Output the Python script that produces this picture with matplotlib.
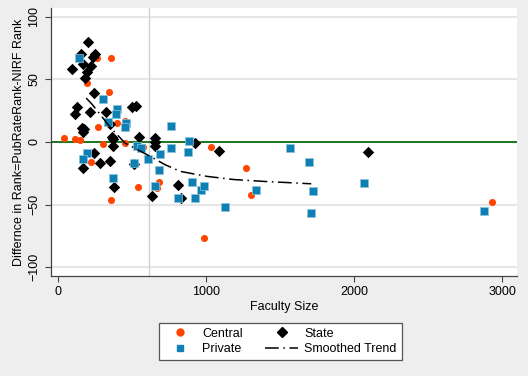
import numpy as np
import matplotlib.pyplot as plt
from matplotlib.lines import Line2D

plt.rcParams['font.family'] = ['Liberation Sans', 'DejaVu Sans']

# Central universities
central_size = [262, 357, 194, 341, 267, 397, 452, 43, 117, 149, 306, 455, 572,
                222, 540, 360, 685, 668, 987, 1031, 1272, 1304, 2932]
central_diff = [67, 67, 47, 40, 12, 15, 17, 3, 2.4, 1.3, -2, -1, -4,
                -16, -36, -46, -32, -37, -77, -4, -21, -42, -48]

# State universities
state_size = [203, 155, 93, 167, 250, 239, 221, 198, 180, 246, 131, 113, 214,
              325, 496, 528, 160, 176, 168, 350, 362, 374, 372, 545, 657, 657,
              657, 927, 1089, 245, 166, 280, 353, 378, 516, 635, 807, 832, 2095]
state_diff = [80, 70, 58, 62, 70, 68, 61, 56, 51, 39, 28, 22, 24,
              24, 28, 29, 11, 10, 8, 14, 4, 2, -3, 4, 3, 0,
              -3.5, -1, -7, -9, -21, -17, -15, -36, -18, -43, -34, -45, -8]

# Private universities
private_size = [144, 302, 396, 388, 338, 460, 453, 530, 560, 510, 606, 370, 196,
                169, 658, 679, 686, 765, 763, 884, 877, 904, 810, 927, 963, 983,
                1128, 1340, 1565, 1696, 1721, 1707, 2068, 2878]
private_diff = [67, 34, 26, 22, 16, 15, 12, -3.5, -5, -17, -14, -29, -9,
                -14, -35, -22, -10, 13, -5, 1, -8, -32, -45, -45, -38, -35,
                -52, -38, -5, -16, -39, -57, -33, -55]

# Smoothed trend
trend_size = [190, 230, 284, 350, 453, 550, 622, 720, 825, 1006, 1186, 1389, 1560, 1710]
trend_diff = [35, 30, 22, 12, -1, -7, -11.5, -18, -23.5, -27.5, -30, -31.5, -32.5, -33.4]

# Mean faculty size (vertical reference line)
mean_size = 617

ORANGE = '#FF4500'
BLUE = '#0E80B4'
BG = '#EEEEEE'

fig = plt.figure(figsize=(5.28, 3.76), dpi=100, facecolor=BG)
ax = fig.add_axes([0.096, 0.266, 0.883, 0.713])
ax.set_facecolor('white')

# grid + reference lines
for yv in [-100, -50, 50, 100]:
    ax.axhline(yv, color='#E6E6E6', lw=1.5, zorder=0)
ax.axvline(mean_size, color='#CDD2DC', lw=1.0, zorder=1)
ax.axhline(0, color='#0A6A0A', lw=1.3, zorder=1)

ax.scatter(central_size, central_diff, s=26, marker='o', color=ORANGE,
           linewidths=0, zorder=2, label='Central')
ax.scatter(state_size, state_diff, s=34, marker='D', color='black',
           linewidths=0, zorder=3, label='State')
ax.scatter(private_size, private_diff, s=28, marker='s', color=BLUE,
           edgecolors='#8CC4DC', linewidths=0.5, zorder=4, label='Private')
ax.plot(trend_size, trend_diff, color='black', lw=1.1,
        dashes=(9, 3, 1, 3), zorder=5, label='Smoothed Trend')

ax.set_xlim(-50, 3100)
ax.set_ylim(-107, 107)
ax.set_xticks([0, 1000, 2000, 3000])
ax.set_yticks([-100, -50, 0, 50, 100])
ax.tick_params(labelsize=9, color='#444444', length=4, width=0.8)
for lab in ax.get_yticklabels():
    lab.set_rotation(90)
    lab.set_va('center')

for side in ['top', 'right']:
    ax.spines[side].set_visible(False)
for side in ['left', 'bottom']:
    ax.spines[side].set_color('#444444')
    ax.spines[side].set_linewidth(0.9)

ax.set_xlabel('Faculty Size', fontsize=9, labelpad=2)
ax.set_ylabel('Differnce in Rank=PubRateRank-NIRF Rank', fontsize=9, labelpad=2)

# legend below the plot, 2 columns
h_c = Line2D([], [], marker='o', color=ORANGE, ls='', ms=5)
h_p = Line2D([], [], marker='s', color=BLUE, ls='', ms=5)
h_s = Line2D([], [], marker='D', color='black', ls='', ms=5.5)
h_t = Line2D([], [], color='black', lw=1.1, dashes=(9, 3, 1, 3))
leg = fig.legend([h_c, h_p, h_s, h_t], ['Central', 'Private', 'State', 'Smoothed Trend'],
                 ncol=2, loc='center', bbox_to_anchor=(280 / 528, 1 - 341.5 / 376),
                 fontsize=9, fancybox=False, framealpha=1, edgecolor='#555555',
                 handlelength=2.6, columnspacing=1.8, labelspacing=0.3,
                 borderpad=0.4, handletextpad=0.5)
leg.get_frame().set_linewidth(0.9)

fig.savefig('out.png', dpi=100, facecolor=BG)
